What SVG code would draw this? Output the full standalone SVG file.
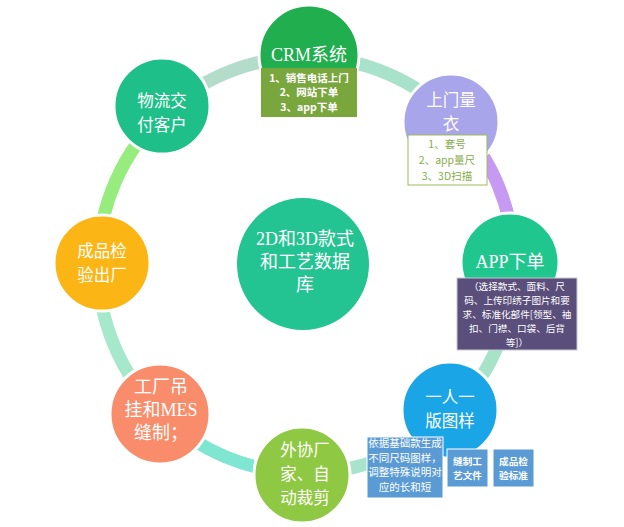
<svg xmlns="http://www.w3.org/2000/svg" width="624" height="527" viewBox="0 0 624 527">
<style>
.arc{fill:none;stroke-width:13}
.node{stroke:#fff;stroke-width:3}
.t{font-family:"Noto Sans CJK SC","Liberation Sans",sans-serif;font-size:16.5px;fill:#fff;text-anchor:middle}
.ts{font-family:"Liberation Serif","Noto Sans CJK SC",serif;font-size:18px;fill:#fff;text-anchor:middle}
.s{font-family:"Noto Sans CJK SC","Liberation Sans",sans-serif;font-size:10.5px;text-anchor:middle}
.s2{font-family:"Noto Sans CJK SC","Liberation Sans",sans-serif;font-size:9.6px;text-anchor:middle}
.b{font-weight:bold}
</style>
<rect width="624" height="527" fill="#fff"/>
<g id="connectors">
<path class="arc" stroke="#b4dccb" d="M166.8 110.4 A208 208 0 0 1 309.6 57"/>
<path class="arc" stroke="#a8e2ca" d="M309.6 57 A208 208 0 0 1 455.6 120.5"/>
<path class="arc" stroke="#c69af3" d="M455.6 120.5 A208 208 0 0 1 514 261.4"/>
<path class="arc" stroke="#a6e3c8" d="M514 261.4 A208 208 0 0 1 453.1 412.1"/>
<path class="arc" stroke="#a8e4cc" d="M453.1 412.1 A208 208 0 0 1 298.7 472.9"/>
<path class="arc" stroke="#7fe6d2" d="M298.7 472.9 A208 208 0 0 1 161.5 414.6"/>
<path class="arc" stroke="#a6e8cb" d="M161.5 414.6 A208 208 0 0 1 98 265"/>
<path class="arc" stroke="#96ec7c" d="M98 265 A208 208 0 0 1 166.8 110.4"/>
</g>
<g id="center">
<circle cx="303" cy="264" r="66" fill="#24c392"/>
<text class="ts"><tspan x="305" y="245">2D和3D款式</tspan><tspan x="305" y="268">和工艺数据</tspan><tspan x="305" y="291">库</tspan></text>
</g>
<g id="crm">
<circle class="node" cx="309" cy="55" r="50" fill="#21ae4f"/>
<text class="ts" x="309" y="61">CRM系统</text>
<rect x="261" y="68" width="96" height="49" fill="#7aa63e"/>
<text class="s b" fill="#fff"><tspan x="309" y="82">1、销售电话上门</tspan><tspan x="309" y="96">2、网站下单</tspan><tspan x="309" y="111">3、app下单</tspan></text>
</g>
<g id="measure">
<circle class="node" cx="451" cy="122" r="48" fill="#a8a5ea"/>
<text class="t"><tspan x="451" y="106">上门量</tspan><tspan x="451" y="130">衣</tspan></text>
<rect x="408" y="135" width="79" height="50" fill="#fff" stroke="#9bbb59"/>
<text class="s" fill="#86ad4c"><tspan x="447" y="148">1、套号</tspan><tspan x="447" y="164">2、app量尺</tspan><tspan x="447" y="180">3、3D扫描</tspan></text>
</g>
<g id="app">
<circle class="node" cx="510" cy="262" r="49" fill="#1fc78f"/>
<text class="ts" x="510" y="268" fill="#eaffea">APP下单</text>
<rect x="457" y="278" width="120" height="72" fill="#5a4e7b" stroke="#c8c8d8"/>
<text class="s2" fill="#fff"><tspan x="517" y="290">（选择款式、面料、尺</tspan><tspan x="517" y="304">码、上传印绣子图片和要</tspan><tspan x="517" y="318">求、标准化部件[领型、袖</tspan><tspan x="517" y="332">扣、门襟、口袋、后背</tspan><tspan x="517" y="346">等]）</tspan></text>
</g>
<g id="pattern">
<circle class="node" cx="450" cy="410" r="48" fill="#1aa5e6"/>
<text class="t"><tspan x="450" y="403">一人一</tspan><tspan x="450" y="427">版图样</tspan></text>
<rect x="367" y="437" width="76" height="61" fill="#5b9bd5" stroke="#fff"/>
<text class="s" fill="#fff"><tspan x="405" y="447">依据基础款生成</tspan><tspan x="405" y="462">不同尺码图样，</tspan><tspan x="405" y="476">调整特殊说明对</tspan><tspan x="405" y="491">应的长和短</tspan></text>
<rect x="447" y="449" width="41" height="38" fill="#5b9bd5" stroke="#fff"/>
<text class="s2 b" fill="#fff"><tspan x="467.5" y="465">缝制工</tspan><tspan x="467.5" y="479">艺文件</tspan></text>
<rect x="493" y="449" width="41" height="38" fill="#5b9bd5" stroke="#fff"/>
<text class="s2 b" fill="#fff"><tspan x="513.5" y="465">成品检</tspan><tspan x="513.5" y="479">验标准</tspan></text>
</g>
<g id="cutting">
<circle class="node" cx="302" cy="475" r="48" fill="#8fc842"/>
<text class="t"><tspan x="305" y="456">外协厂</tspan><tspan x="305" y="480">家、自</tspan><tspan x="305" y="504">动裁剪</tspan></text>
</g>
<g id="sewing">
<circle class="node" cx="160" cy="414" r="50" fill="#f98d6b"/>
<text class="ts" fill="#fff5e6"><tspan x="161" y="393">工厂吊</tspan><tspan x="161" y="416">挂和MES</tspan><tspan x="161" y="439">缝制；</tspan></text>
</g>
<g id="inspect">
<circle class="node" cx="102" cy="263" r="48" fill="#fbb615"/>
<text class="t"><tspan x="102" y="257">成品检</tspan><tspan x="102" y="281">验出厂</tspan></text>
</g>
<g id="delivery">
<circle class="node" cx="162" cy="106" r="48" fill="#1ebf88"/>
<text class="t"><tspan x="162" y="107">物流交</tspan><tspan x="162" y="131">付客户</tspan></text>
</g>
</svg>
